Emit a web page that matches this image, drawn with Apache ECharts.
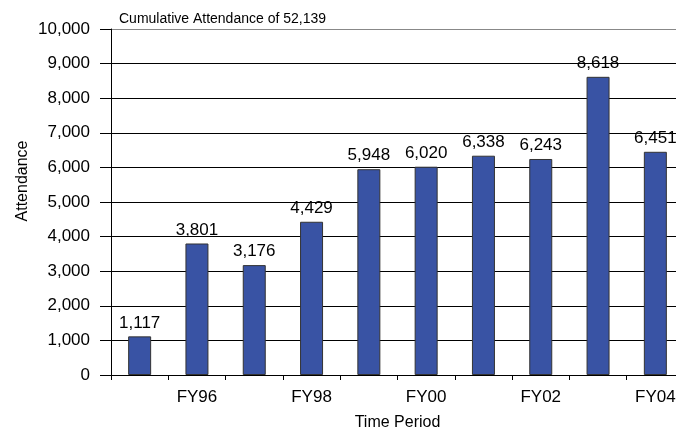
<!DOCTYPE html>
<html>
<head>
<meta charset="utf-8">
<script src="https://cdn.jsdelivr.net/npm/echarts@6/dist/echarts.min.js"></script>
<style>
html,body{margin:0;padding:0;background:#fff;}
#chart{width:676px;height:429px;}
</style>
</head>
<body>
<div id="chart"></div>
<script>
var categories = ['FY95','FY96','FY97','FY98','FY99','FY00','FY01','FY02','FY03','FY04'];
var attendance = [1117, 3801, 3176, 4429, 5948, 6020, 6338, 6243, 8618, 6451];
var titleText = 'Cumulative Attendance of 52,139';
var yAxisTitle = 'Attendance';
var xAxisTitle = 'Time Period';

var FONT = '"Liberation Sans", Arial, sans-serif';
function fmt(v){ return String(v).replace(/\B(?=(\d{3})+(?!\d))/g, ','); }

var chart = echarts.init(document.getElementById('chart'), null, {renderer:'canvas'});
chart.setOption({
  animation: false,
  backgroundColor: '#fff',
  title: {
    text: titleText, left: 114, top: 7,
    textStyle: {fontFamily: FONT, fontSize: 14, fontWeight: 'normal', color: '#000'}
  },
  graphic: [{
    type: 'text', x: 23, y: 181, rotation: Math.PI/2,
    style: {text: yAxisTitle, font: '16px ' + FONT, fill: '#000', align: 'center', verticalAlign: 'middle'}
  }],
  grid: {left: 111, top: 29, right: -8, bottom: 54, containLabel: false, outerBoundsMode: 'none'},
  xAxis: {
    type: 'category', data: categories,
    name: xAxisTitle, nameLocation: 'middle', nameGap: 40,
    nameTextStyle: {fontFamily: FONT, fontSize: 16, color: '#000'},
    axisLine: {show: true, lineStyle: {color: '#000', width: 1}},
    axisTick: {show: true, interval: 0, length: 5, lineStyle: {color: '#000'}},
    axisLabel: {
      interval: function(i){ return i % 2 === 1; },
      fontFamily: FONT, fontSize: 17, color: '#000', margin: 14
    },
    splitLine: {show: false}
  },
  yAxis: {
    type: 'value', min: 0, max: 10000, interval: 1000,
    axisLine: {show: true, lineStyle: {color: '#000', width: 1}},
    axisTick: {show: true, length: 11, lineStyle: {color: '#000'}},
    axisLabel: {formatter: fmt, fontFamily: FONT, fontSize: 17, color: '#000', margin: 21},
    splitLine: {show: true, lineStyle: {color: ['#000','#000','#000','#000','#000','#000','#000','#000','#000','#000','#888'], width: 1}}
  },
  series: [{
    type: 'bar', data: attendance, barWidth: 23,
    itemStyle: {color: '#3953A4', borderColor: '#333', borderWidth: 1},
    label: {show: true, position: 'top', distance: 5, formatter: function(p){ return fmt(p.value); },
      fontFamily: FONT, fontSize: 17, color: '#000'}
  }]
});
</script>
</body>
</html>
